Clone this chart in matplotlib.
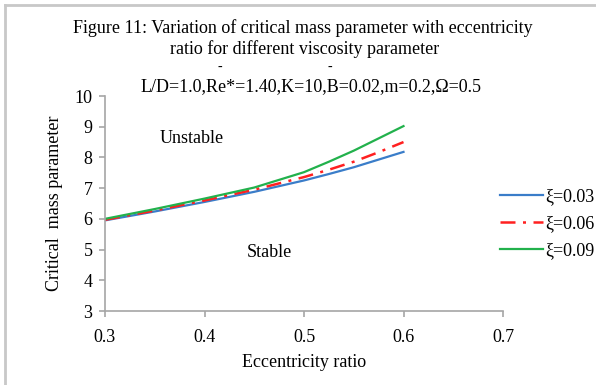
import matplotlib.pyplot as plt
from matplotlib.lines import Line2D

# data
ecc = [0.30, 0.35, 0.40, 0.45, 0.50, 0.525, 0.55, 0.575, 0.60]
mc_003 = [5.95, 6.24, 6.55, 6.88, 7.25, 7.46, 7.68, 7.93, 8.18]
mc_006 = [5.97, 6.27, 6.60, 6.95, 7.36, 7.60, 7.86, 8.17, 8.50]
mc_009 = [6.00, 6.32, 6.66, 7.02, 7.52, 7.86, 8.22, 8.62, 9.02]
labels = ['ξ=0.03', 'ξ=0.06', 'ξ=0.09']

W, H = 596, 385
plt.rcParams['font.family'] = ['Liberation Serif', 'DejaVu Serif']
fig = plt.figure(figsize=(W / 100, H / 100), dpi=100)


def fx(px):
    return px / W


def fy(py):
    return 1 - py / H


ax = fig.add_axes([fx(105), fy(311), fx(503) - fx(105), fy(96) - fy(311)])

ax.plot(ecc, mc_003, color='#3a7dc9', lw=1.6, label=labels[0])
ax.plot(ecc, mc_006, color='#ff2020', lw=1.8, dashes=(6, 3, 1.2, 3), label=labels[1])
ax.plot(ecc, mc_009, color='#22b14c', lw=1.6, label=labels[2])

ax.set_xlim(0.3, 0.7)
ax.set_ylim(3, 10)
ax.set_xticks([0.3, 0.4, 0.5, 0.6, 0.7])
ax.set_xticklabels(['0.3', '0.4', '0.5', '0.6', '0.7'])
ax.set_yticks(range(3, 11))
for s in ['top', 'right']:
    ax.spines[s].set_visible(False)
for s in ['left', 'bottom']:
    ax.spines[s].set_color('#a6a6a6')
    ax.spines[s].set_linewidth(1.2)
ax.tick_params(colors='#a6a6a6', labelcolor='black', labelsize=13, length=4, width=1.2)
ax.tick_params(axis='x', pad=9)
ax.tick_params(axis='y', pad=5)

ax.set_xlabel('Eccentricity ratio', fontsize=13, labelpad=6)
ax.set_ylabel('Critical  mass parameter', fontsize=13, labelpad=8)

ax.text(0.387, 8.63, 'Unstable', fontsize=13, ha='center', va='center')
ax.text(0.465, 4.92, 'Stable', fontsize=13, ha='center', va='center')

fig.legend(loc='center left', bbox_to_anchor=(fx(500), fy(224)),
           frameon=False, fontsize=13, handlelength=2.4, handletextpad=0.1, labelspacing=0.55,
           borderaxespad=0, borderpad=0)

# titles
fig.text(fx(303), fy(28), 'Figure 11: Variation of critical mass parameter with eccentricity',
         fontsize=13, ha='center', va='center')
fig.text(fx(305), fy(49), 'ratio for different viscosity parameter',
         fontsize=13, ha='center', va='center')
fig.text(fx(311), fy(87), 'L/D=1.0,Re*=1.40,K=10,B=0.02,m=0.2,Ω=0.5',
         fontsize=13, ha='center', va='center')
fig.text(fx(220), fy(67), '-', fontsize=10, ha='center', va='center')
fig.text(fx(330), fy(67), '-', fontsize=10, ha='center', va='center')

# thin frame at top and left, as in the source
fig.add_artist(Line2D([fx(5), 1], [fy(5), fy(5)], color='#c8c8c8', lw=2))
fig.add_artist(Line2D([fx(5), fx(5)], [0, fy(5)], color='#c8c8c8', lw=2))

fig.savefig('out.png', dpi=100)
